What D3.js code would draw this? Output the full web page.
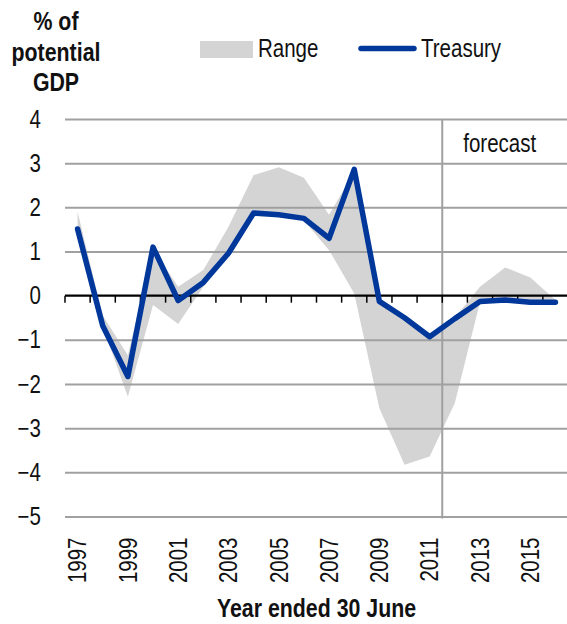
<!DOCTYPE html>
<html>
<head>
<meta charset="utf-8">
<script src="https://cdn.jsdelivr.net/npm/d3@7"></script>
<style>
  body { margin: 0; background: #fff; }
  svg { display: block; }
  text { font-family: "Liberation Sans", Arial, sans-serif; fill: #111; }
</style>
</head>
<body>
<svg width="567" height="624"></svg>
<script>
// financial years (year ended 30 June)
var years = ["1997", "1998", "1999", "2000", "2001", "2002", "2003", "2004", "2005", "2006",
             "2007", "2008", "2009", "2010", "2011", "2012", "2013", "2014", "2015", "2016"];
var yearLabels = ["1997", "1999", "2001", "2003", "2005", "2007", "2009", "2011", "2013", "2015"];

// Treasury estimate, % of potential GDP
var treasury = [1.51, -0.68, -1.83, 1.10, -0.11, 0.30, 0.96, 1.87, 1.83, 1.75,
                1.30, 2.86, -0.13, -0.50, -0.93, -0.52, -0.13, -0.10, -0.15, -0.15];

// range of other estimates
var rangeHigh = [1.90, -0.45, -1.35, 1.05, 0.20, 0.58, 1.56, 2.73, 2.91, 2.67,
                 1.83, 2.80, -0.10, -0.45, -0.90, -0.50, 0.20, 0.64, 0.41, -0.10];
var rangeLow = [1.45, -0.70, -2.29, -0.21, -0.64, 0.20, 0.90, 1.80, 1.78, 1.70,
                1.03, 0.05, -2.55, -3.83, -3.64, -2.43, -0.15, -0.10, -0.15, -0.15];

var yTicks = [4, 3, 2, 1, 0, -1, -2, -3, -4, -5];
var forecastStart = "2012";

var svg = d3.select("svg");

var x = d3.scaleBand()
    .domain(years)
    .range([65, 568]);

var y = d3.scaleLinear()
    .domain([-5, 4])
    .range([516.5, 119]);

var gridColor = "#a0a0a0";

// range area (under the grid)
var area = d3.area()
    .x(function(d, i) { return x(years[i]) + x.bandwidth() / 2; })
    .y0(function(d, i) { return y(rangeLow[i]); })
    .y1(function(d, i) { return y(rangeHigh[i]); });

svg.append("path")
    .datum(rangeHigh)
    .attr("fill", "#d4d4d4")
    .attr("d", area);

// y grid + labels
var yAxis = svg.append("g")
    .attr("transform", "translate(65,0)")
    .call(d3.axisLeft(y).tickValues(yTicks).tickSize(-(567 - 65)).tickPadding(24));

yAxis.select(".domain").remove();
yAxis.selectAll(".tick line")
    .attr("stroke", function(d) { return d === 0 ? "none" : gridColor; })
    .attr("stroke-width", 2);
yAxis.selectAll(".tick text")
    .attr("font-size", 25)
    .attr("font-family", null)
    .attr("fill", "#111");

// forecast divider
svg.append("line")
    .attr("x1", x(forecastStart))
    .attr("x2", x(forecastStart))
    .attr("y1", y(4))
    .attr("y2", y(-5) + 2)
    .attr("stroke", gridColor)
    .attr("stroke-width", 2);

svg.append("text")
    .attr("x", x(forecastStart) + 21)
    .attr("y", 152)
    .attr("font-size", 25)
    .text("forecast");

// zero line with category ticks
svg.append("line")
    .attr("x1", 65)
    .attr("x2", 567)
    .attr("y1", y(0))
    .attr("y2", y(0))
    .attr("stroke", "#000")
    .attr("stroke-width", 2.2);

svg.selectAll(".zt")
    .data(years)
  .enter().append("line")
    .attr("class", "zt")
    .attr("x1", function(d) { return x(d); })
    .attr("x2", function(d) { return x(d); })
    .attr("y1", y(0))
    .attr("y2", y(0) + 7)
    .attr("stroke", "#000")
    .attr("stroke-width", 1.5);

// treasury line
var line = d3.line()
    .x(function(d, i) { return x(years[i]) + x.bandwidth() / 2; })
    .y(function(d) { return y(d); });

svg.append("path")
    .datum(treasury)
    .attr("fill", "none")
    .attr("stroke", "#00379a")
    .attr("stroke-width", 5.5)
    .attr("stroke-linejoin", "round")
    .attr("stroke-linecap", "round")
    .attr("d", line);

// x labels
var xAxis = svg.append("g")
    .attr("transform", "translate(0," + y(-5) + ")")
    .call(d3.axisBottom(x).tickValues(yearLabels).tickSize(0));

xAxis.select(".domain").remove();
xAxis.selectAll(".tick text")
    .attr("transform", "rotate(-90)")
    .attr("x", -21)
    .attr("y", 0)
    .attr("dy", "0.35em")
    .attr("text-anchor", "end")
    .attr("font-size", 25)
    .attr("font-family", null)
    .attr("fill", "#111");

svg.append("text")
    .attr("x", (65 + 568) / 2)
    .attr("y", 617)
    .attr("text-anchor", "middle")
    .attr("font-size", 26)
    .attr("font-weight", "bold")
    .text("Year ended 30 June");

// y title
var titleLines = ["% of", "potential", "GDP"];
svg.selectAll(".ytitle")
    .data(titleLines)
  .enter().append("text")
    .attr("class", "ytitle")
    .attr("x", 56)
    .attr("y", function(d, i) { return 30 + i * 30.5; })
    .attr("text-anchor", "middle")
    .attr("font-size", 26)
    .attr("font-weight", "bold")
    .text(function(d) { return d; });

// legend
var legend = svg.append("g");
legend.append("rect")
    .attr("x", 200).attr("y", 41)
    .attr("width", 53).attr("height", 17)
    .attr("fill", "#d4d4d4");
legend.append("text")
    .attr("x", 258).attr("y", 57)
    .attr("font-size", 25)
    .text("Range");
legend.append("line")
    .attr("x1", 361).attr("x2", 414)
    .attr("y1", 48.5).attr("y2", 48.5)
    .attr("stroke", "#00379a")
    .attr("stroke-width", 5.5)
    .attr("stroke-linecap", "round");
legend.append("text")
    .attr("x", 421).attr("y", 57)
    .attr("font-size", 25)
    .text("Treasury");

// no narrow face installed: squeeze Liberation Sans to Arial Narrow widths
svg.selectAll("text").each(function() {
  var w = this.getComputedTextLength();
  d3.select(this)
      .attr("textLength", w * 0.82)
      .attr("lengthAdjust", "spacingAndGlyphs");
});
</script>
</body>
</html>
